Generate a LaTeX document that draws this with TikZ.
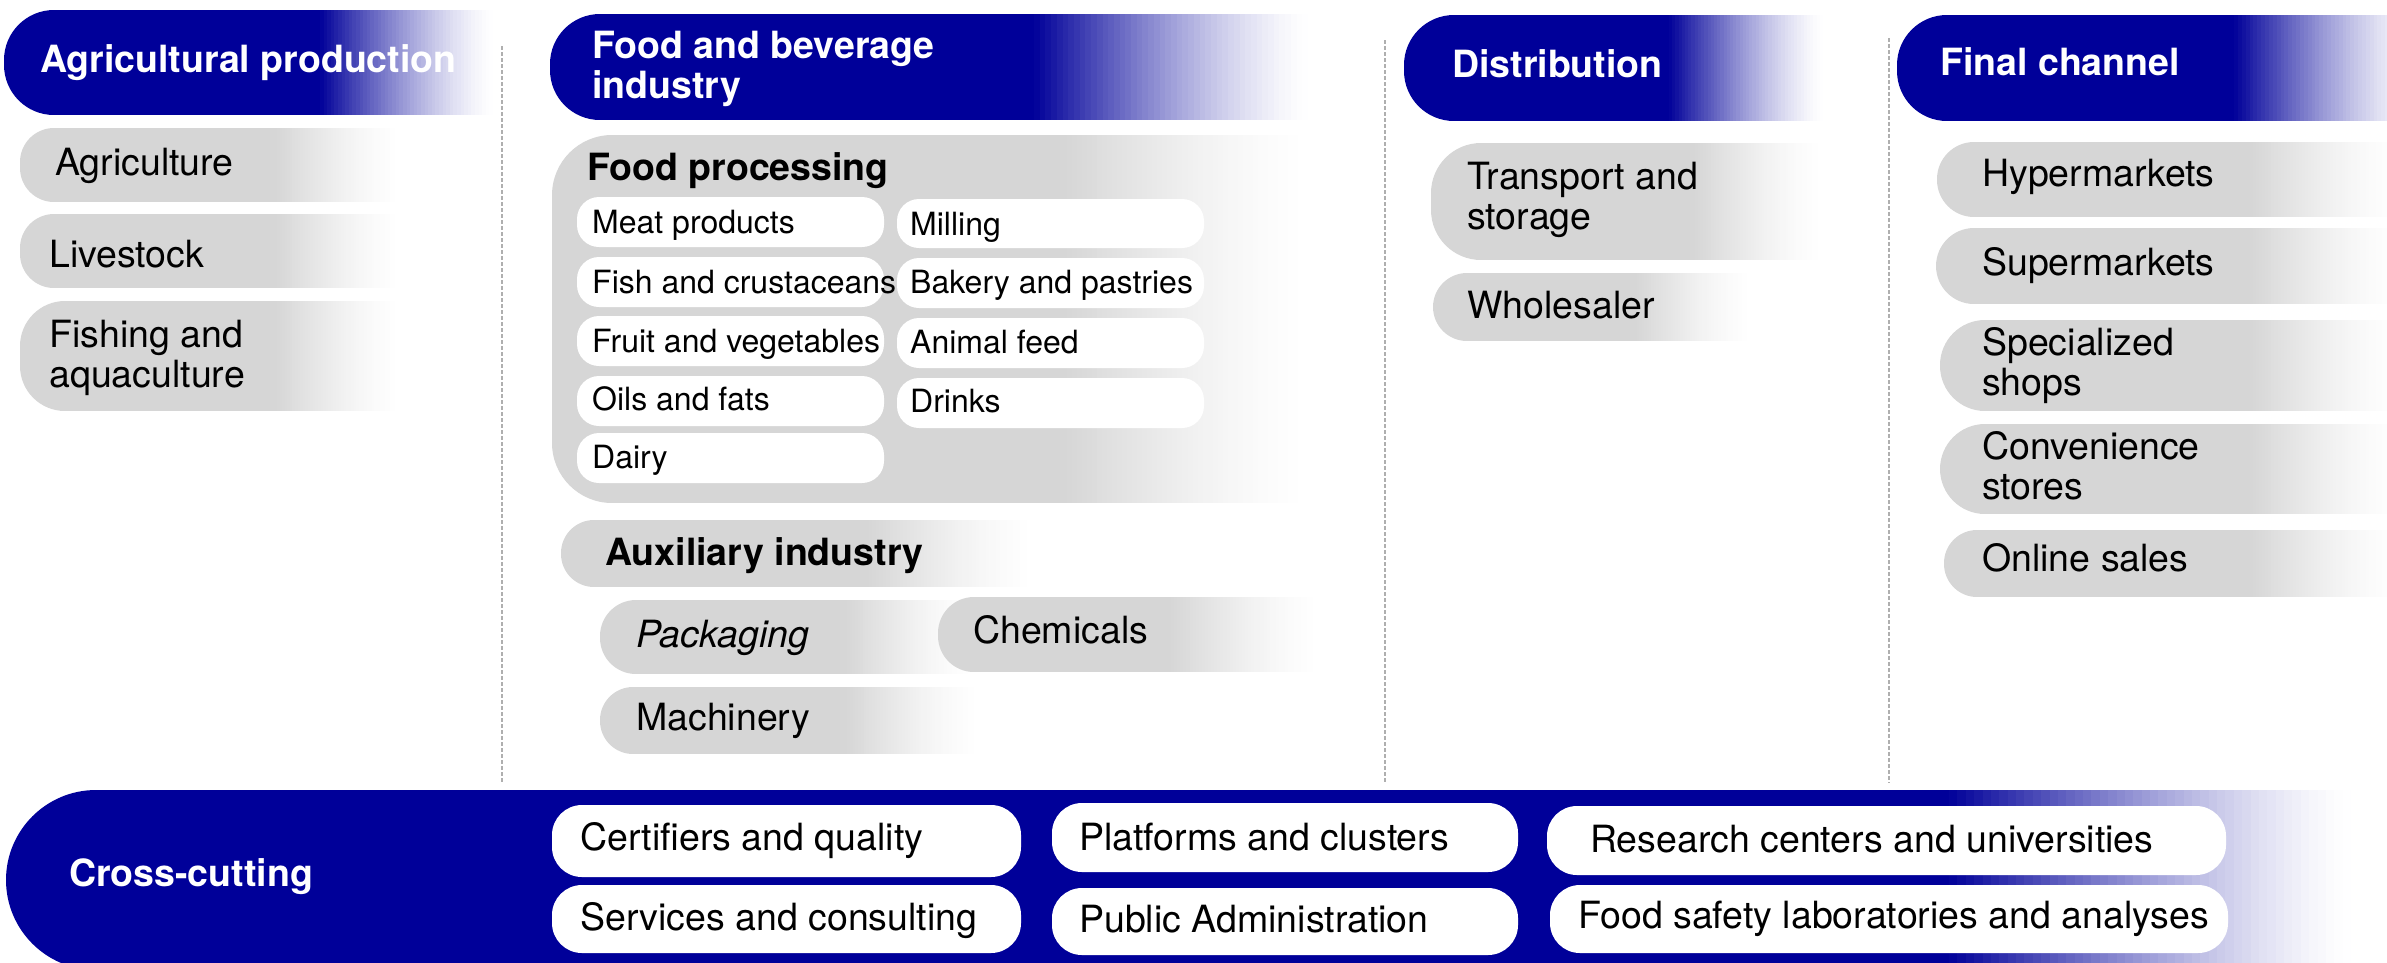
\documentclass[tikz,border=0pt]{standalone}
\usepackage{fontspec}
\setmainfont{TeX Gyre Heros}

\definecolor{chainblue}{RGB}{0,0,153}
\definecolor{pillgrey}{RGB}{214,214,214}
\definecolor{sepgrey}{RGB}{175,175,175}

% bar rounded on the left: solid from x0 to x1, then fading to white at x2
% #1=x0 #2=top #3=x1 #4=x2 #5=bottom #6=radius #7=colour
\newcommand{\fadebar}[7]{%
  \begin{scope}
    \clip (#4,#2) [rounded corners=#6] -- (#1,#2) -- (#1,#5) [sharp corners] -- (#4,#5) -- cycle;
    \fill[#7] (#1,#2) rectangle (#3+1,#5);
    \pgfmathsetmacro{\stripw}{(#4-#3)/48}
    \foreach \k in {0,...,47}{
      \pgfmathsetmacro{\mixpct}{100*(1-(\k+0.5)/48)^1.4}
      \fill[#7!\mixpct!white] ({#3+\stripw*\k},#2) rectangle ({#3+\stripw*(\k+1)+0.6},#5);
    }
  \end{scope}}

\begin{document}
\begin{tikzpicture}[x=1pt,y=-1pt,
    lbl/.style={font=\fontsize{37.5}{40}\selectfont, inner sep=0pt, anchor=base west, align=left},
    hdr/.style={lbl, font=\fontsize{37.5}{40}\selectfont\bfseries, text=white},
    sublbl/.style={lbl, font=\fontsize{32}{36}\selectfont},
    whitepill/.style={fill=white, rounded corners=22pt},
    crosspill/.style={fill=white, rounded corners=30pt},
    sepline/.style={sepgrey, line width=1.2pt, dash pattern=on 4pt off 2pt}]
    \useasboundingbox (0,0) rectangle (2387,962);

    % column separators
    \coordinate (sep1top) at (502,46);
    \coordinate (sep1bot) at (502,783);
    \coordinate (sep2top) at (1385,40);
    \coordinate (sep2bot) at (1385,783);
    \coordinate (sep3top) at (1889,38);
    \coordinate (sep3bot) at (1889,783);
    \draw[sepline] (sep1top) -- (sep1bot);
    \draw[sepline] (sep2top) -- (sep2bot);
    \draw[sepline] (sep3top) -- (sep3bot);

    % headers (two-line texts sit on the baseline of their last line)
    \fadebar{4}{10}{320}{493}{115}{50pt}{chainblue}
    \node[hdr] (agprod) at (40,72) {Agricultural production};
    \fadebar{550}{14}{1034}{1308}{120}{50pt}{chainblue}
    \node[hdr] (fbind) at (592,98) {Food and beverage\\industry};
    \fadebar{1404}{15}{1669}{1823}{121}{50pt}{chainblue}
    \node[hdr] (distrib) at (1452,77) {Distribution};
    \fadebar{1897}{15}{2234}{2420}{121}{50pt}{chainblue}
    \node[hdr] (finalch) at (1940,75) {Final channel};

    % agricultural production
    \fadebar{20}{128}{277}{400}{202}{34pt}{pillgrey}
    \node[lbl] (agri) at (55,175) {Agriculture};
    \fadebar{20}{214}{277}{400}{288}{34pt}{pillgrey}
    \node[lbl] (livestock) at (49,267) {Livestock};
    \fadebar{20}{301}{277}{400}{411}{45pt}{pillgrey}
    \node[lbl] (fishing) at (49,387) {Fishing and\\aquaculture};

    % food processing
    \fadebar{552}{135}{1067}{1308}{503}{60pt}{pillgrey}
    \node[lbl, font=\fontsize{37.5}{40}\selectfont\bfseries] (foodproc) at (587,180) {Food processing};

    \fill[whitepill] (577,197) rectangle (884,247);
    \fill[whitepill] (577,257) rectangle (884,307);
    \fill[whitepill] (577,316) rectangle (884,366);
    \fill[whitepill] (577,376) rectangle (884,426);
    \fill[whitepill] (577,433) rectangle (884,483);
    \fill[whitepill] (897,199) rectangle (1204,248);
    \fill[whitepill] (897,258) rectangle (1204,308);
    \fill[whitepill] (897,318) rectangle (1204,368);
    \fill[whitepill] (897,378) rectangle (1204,428);

    \node[sublbl] (meat) at (592,233) {Meat products};
    \node[sublbl] (fish) at (592,293) {Fish and crustaceans};
    \node[sublbl] (fruit) at (592,352) {Fruit and vegetables};
    \node[sublbl] (oils) at (592,410) {Oils and fats};
    \node[sublbl] (dairy) at (592,468) {Dairy};
    \node[sublbl] (milling) at (910,235) {Milling};
    \node[sublbl] (bakery) at (910,293) {Bakery and pastries};
    \node[sublbl] (feed) at (910,353) {Animal feed};
    \node[sublbl] (drinks) at (910,412) {Drinks};

    % auxiliary industry
    \fadebar{561}{520}{869}{1034}{587}{33pt}{pillgrey}
    \node[lbl, font=\fontsize{37.5}{40}\selectfont\bfseries] (auxind) at (605,565) {Auxiliary industry};
    \fadebar{600}{600}{847}{973}{674}{36pt}{pillgrey}
    \node[lbl, font=\fontsize{37.5}{40}\selectfont\itshape] (packaging) at (636,647) {Packaging};
    \fadebar{938}{597}{1171}{1319}{672}{36pt}{pillgrey}
    \node[lbl] (chemicals) at (973,643) {Chemicals};
    \fadebar{600}{687}{847}{979}{754}{33pt}{pillgrey}
    \node[lbl] (machinery) at (636,730) {Machinery};

    % distribution
    \fadebar{1431}{143}{1695}{1823}{260}{50pt}{pillgrey}
    \node[lbl] (transport) at (1467,229) {Transport and\\storage};
    \fadebar{1433}{273}{1637}{1752}{341}{34pt}{pillgrey}
    \node[lbl] (wholesaler) at (1467,318) {Wholesaler};

    % final channel
    \fadebar{1937}{142}{2253}{2400}{217}{37pt}{pillgrey}
    \node[lbl] (hyper) at (1982,186) {Hypermarkets};
    \fadebar{1936}{228}{2253}{2400}{304}{38pt}{pillgrey}
    \node[lbl] (super) at (1982,275) {Supermarkets};
    \fadebar{1940}{320}{2253}{2400}{411}{45pt}{pillgrey}
    \node[lbl] (special) at (1982,395) {Specialized\\shops};
    \fadebar{1940}{424}{2253}{2400}{514}{45pt}{pillgrey}
    \node[lbl] (conven) at (1982,499) {Convenience\\stores};
    \fadebar{1944}{530}{2253}{2400}{597}{33pt}{pillgrey}
    \node[lbl] (online) at (1982,571) {Online sales};

    % cross-cutting bar
    \fadebar{6}{790}{1949}{2351}{970}{90pt}{chainblue}
    \node[hdr] (crosscut) at (69,886) {Cross-cutting};

    \fill[crosspill] (552,805) rectangle (1021,877);
    \fill[crosspill] (552,885) rectangle (1021,953);
    \fill[crosspill] (1052,803) rectangle (1518,872);
    \fill[crosspill] (1052,888) rectangle (1518,955);
    \fill[crosspill] (1547,806) rectangle (2226,875);
    \fill[crosspill] (1550,885) rectangle (2228,953);

    \node[lbl] (certif) at (580,850) {Certifiers and quality};
    \node[lbl] (services) at (580,930) {Services and consulting};
    \node[lbl] (platforms) at (1079,850) {Platforms and clusters};
    \node[lbl] (publicadm) at (1079,932) {Public Administration};
    \node[lbl] (research) at (1590,852) {Research centers and universities};
    \node[lbl] (foodsafety) at (1578,928) {Food safety laboratories and analyses};

\end{tikzpicture}
\end{document}
